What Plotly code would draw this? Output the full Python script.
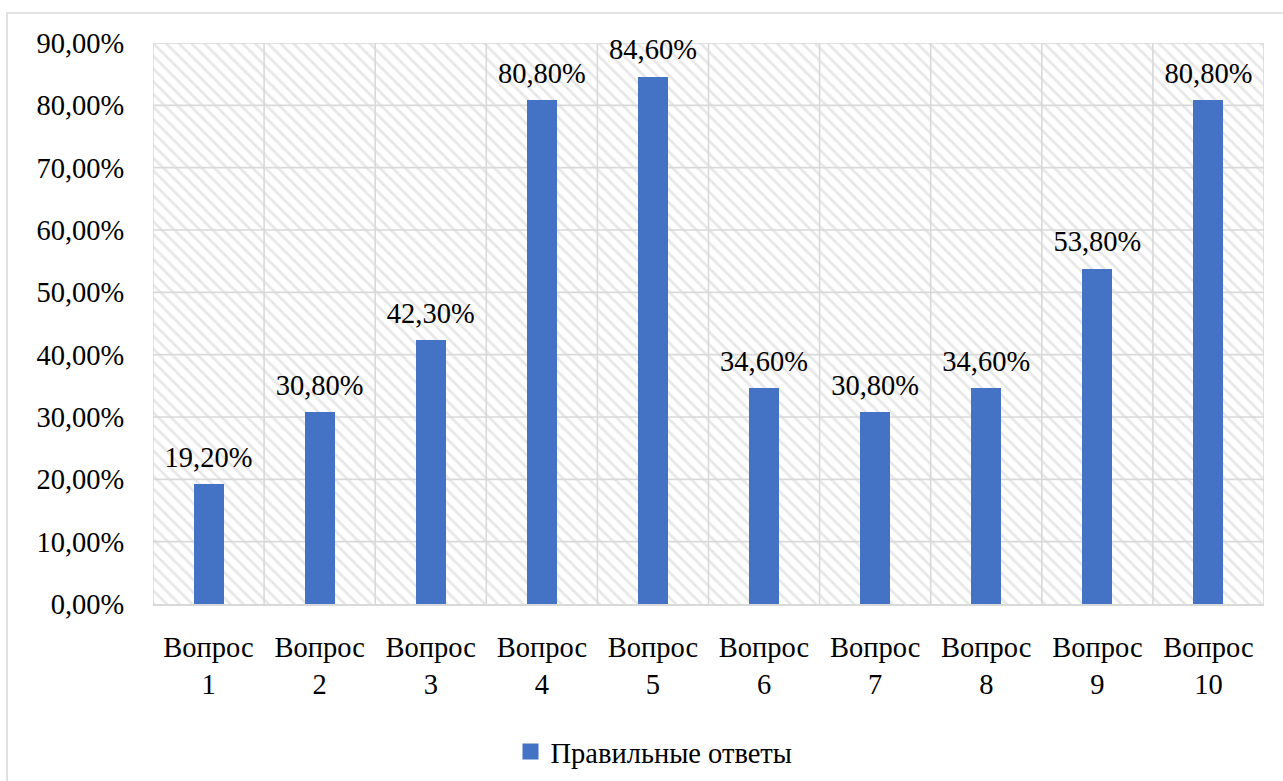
import plotly.graph_objects as go

# Доля правильных ответов по вопросам, %
questions = ["Вопрос<br>1", "Вопрос<br>2", "Вопрос<br>3", "Вопрос<br>4", "Вопрос<br>5",
             "Вопрос<br>6", "Вопрос<br>7", "Вопрос<br>8", "Вопрос<br>9", "Вопрос<br>10"]
correct = [19.2, 30.8, 42.3, 80.8, 84.6, 34.6, 30.8, 34.6, 53.8, 80.8]
series_name = "Правильные ответы"
y_ticks = [0, 10, 20, 30, 40, 50, 60, 70, 80, 90]

FONT = "'Times New Roman', 'Liberation Serif', serif"
FS = 28.5
BLUE = "#4472C4"
GRID = "#d9d9d9"


def pct(v):
    return f"{v:.2f}".replace(".", ",") + "%"


n = len(questions)
x_lo, x_hi = -0.5, n - 0.5
y_lo, y_hi = y_ticks[0], y_ticks[-1]

fig = go.Figure()

# hatched background of the plot area
fig.add_trace(go.Bar(
    x=[(x_lo + x_hi) / 2], y=[y_hi], width=[x_hi - x_lo], base=[y_lo],
    xaxis="x", yaxis="y",
    marker=dict(color="white", line=dict(width=0),
                pattern=dict(shape="\\", fgcolor="#cfcfcf", bgcolor="white",
                             size=9, solidity=0.3)),
    showlegend=False, hoverinfo="skip",
))

# grid drawn over the hatching but under the bars
gx, gy = [], []
for t in y_ticks[1:]:
    gx += [x_lo, x_hi, None]
    gy += [t, t, None]
for i in range(n + 1):
    gx += [x_lo + i, x_lo + i, None]
    gy += [y_lo, y_hi, None]
fig.add_trace(go.Scatter(
    x=gx, y=gy, mode="lines", xaxis="x", yaxis="y",
    line=dict(color=GRID, width=1.6),
    showlegend=False, hoverinfo="skip",
))

# the data bars
fig.add_trace(go.Bar(
    x=questions, y=correct, name=series_name,
    xaxis="x2", yaxis="y2",
    width=0.27,
    marker=dict(color=BLUE, line=dict(width=0)),
    showlegend=False,
))

# value labels above each bar
fig.add_trace(go.Scatter(
    x=questions, y=correct, mode="markers+text",
    xaxis="x2", yaxis="y2",
    marker=dict(size=15, opacity=0, color=BLUE),
    text=[pct(v) for v in correct], textposition="top center",
    textfont=dict(family=FONT, size=FS, color="black"),
    cliponaxis=False, showlegend=False, hoverinfo="skip",
))

# legend entry with a larger square swatch
fig.add_trace(go.Scatter(
    x=[None], y=[None], name=series_name, mode="markers",
    xaxis="x2", yaxis="y2",
    marker=dict(symbol="square", size=16, color=BLUE),
    showlegend=True,
))

fig.update_layout(
    width=1283, height=781,
    margin=dict(l=153, r=19, t=43, b=177, autoexpand=False),
    paper_bgcolor="white", plot_bgcolor="white",
    font=dict(family=FONT, size=FS, color="black"),
    showlegend=True,
    legend=dict(orientation="h", xref="container", x=654 / 1283, xanchor="center",
                yref="container", y=(781 - 752) / 781, yanchor="middle",
                font=dict(family=FONT, size=FS, color="black"),
                itemwidth=30, bgcolor="rgba(0,0,0,0)"),
    xaxis=dict(range=[x_lo, x_hi], showgrid=False, zeroline=False,
               showticklabels=False, ticks="", fixedrange=True),
    yaxis=dict(range=[y_lo, y_hi], showgrid=False, zeroline=False,
               tickvals=y_ticks, ticktext=[pct(v) for v in y_ticks],
               ticks="outside", ticklen=22, tickcolor="rgba(0,0,0,0)",
               tickfont=dict(family=FONT, size=FS, color="black"),
               showline=False),
    xaxis2=dict(overlaying="x", type="category", range=[x_lo, x_hi],
                categoryorder="array", categoryarray=questions,
                side="bottom", showgrid=False, zeroline=False,
                ticks="outside", ticklen=17, tickcolor="rgba(0,0,0,0)",
                tickfont=dict(family=FONT, size=FS, color="black"),
                showline=True, linecolor=GRID, linewidth=1.6),
    yaxis2=dict(overlaying="y", range=[y_lo, y_hi], showgrid=False, zeroline=False,
                showticklabels=False, ticks=""),
    bargap=0,
    shapes=[dict(type="rect", xref="paper", yref="paper",
                 x0=(7 - 153) / 1111, x1=1.2, y0=-0.6, y1=(604 - 13) / 561,
                 line=dict(color=GRID, width=1.6), fillcolor="rgba(0,0,0,0)",
                 layer="below")],
)

fig.write_html("out.html")
